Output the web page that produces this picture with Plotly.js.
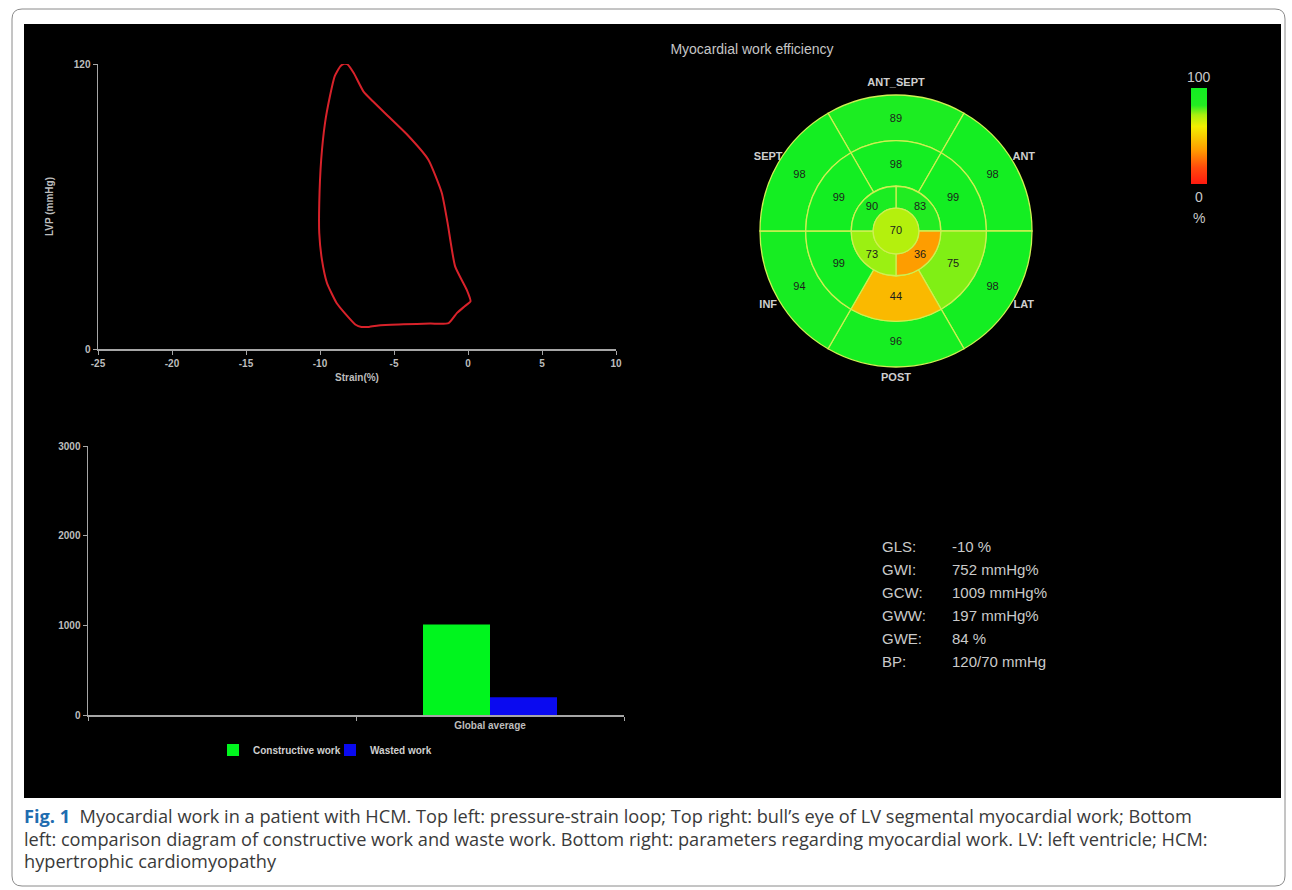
<!DOCTYPE html>
<html>
<head>
<meta charset="utf-8">
<script src="https://cdn.plot.ly/plotly-3.0.1.min.js"></script>
<style>
html,body{margin:0;padding:0;background:#fff;}
#chart{width:1292px;height:890px;}
</style>
</head>
<body>
<div id="chart"></div>
<script>
// ---------- DATA ----------
// Pressure-strain loop (Strain %, LVP mmHg)
const loopStrain = [-8.37,-8.16,-7.72,-7.07,-6.43,-5.39,-4.10,-2.68,-1.77,-1.38,-0.87,-0.09,0.17,-0.22,-0.74,-1.31,-2.55,-4.36,-5.91,-6.69,-7.20,-7.59,-8.24,-8.88,-9.53,-9.87,-10.05,-10.05,-9.92,-9.66,-9.33,-9.01,-8.63,-8.37];
const loopLVP    = [120.1,119.9,116.2,108.5,104.3,98.0,90.2,79.7,65.7,53.1,34.8,25.0,20.1,18.0,15.2,10.9,10.7,10.4,10.0,9.3,9.3,10.2,14.5,19.4,27.8,37.6,48.8,61.5,79.7,95.2,106.4,114.8,119.0,120.1];
const strainTickVals  = [-25, -20, -15, -10, -5, 0, 5, 10];
const strainTickText  = ["-25", "-20", "-15", "-10", "-5", "0", "5", "10"];
const lvpTickVals     = [0, 120];

// Bull's eye segmental work efficiency (%)
const basalAngles  = [0, 60, 120, 180, 240, 300];
const basalValues  = [89, 98, 98, 96, 94, 98];
const midAngles    = [0, 60, 120, 180, 240, 300];
const midValues    = [98, 99, 75, 44, 99, 99];
const apicalAngles = [45, 135, 225, 315];
const apicalValues = [83, 36, 73, 90];
const apexValue    = 70;
const wallLabels   = ["ANT_SEPT", "ANT", "LAT", "POST", "INF", "SEPT"];
const wallAngles   = [0, 60, 120, 180, 240, 300];

// Constructive vs wasted work
const barCategories = [" ", "Global average"];
const constructiveWork = [null, 1009];
const wastedWork       = [null, 197];
const workTickVals = [0, 1000, 2000, 3000];

// Global parameters
const paramLabels = ["GLS:", "GWI:", "GCW:", "GWW:", "GWE:", "BP:"];
const paramValues = ["-10 %", "752 mmHg%", "1009 mmHg%", "197 mmHg%", "84 %", "120/70 mmHg"];

const captionLines = [
  "<b><span style='color:#1f6db0'>Fig. 1</span></b>\u00a0\u00a0Myocardial work in a patient with HCM. Top left: pressure-strain loop; Top right: bull\u2019s eye of LV segmental myocardial work; Bottom",
  "left: comparison diagram of constructive work and waste work. Bottom right: parameters regarding myocardial work. LV: left ventricle; HCM:",
  "hypertrophic cardiomyopathy"
];

// ---------- LAYOUT HELPERS ----------
const W = 1292, H = 890;
const X = px => px / W;
const Y = py => 1 - py / H;

// ring geometry (fraction of outer radius)
const R_APEX = 0.168, R_APICAL = 0.329, R_MID = 0.664, R_BASAL = 1.0;

const effScale = [
  [0.00, '#ff1a10'],
  [0.17, '#ff4a0c'],
  [0.35, '#ff9a00'],
  [0.60, '#f2ef00'],
  [0.72, '#a8f010'],
  [0.82, '#22ec22'],
  [1.00, '#12ee22']
];

// build bull's eye segments
const segTheta = [], segWidth = [], segR = [], segBase = [], segVal = [];
basalAngles.forEach((a,i)=>{segTheta.push(a);segWidth.push(60);segBase.push(R_MID);segR.push(R_BASAL-R_MID);segVal.push(basalValues[i]);});
midAngles.forEach((a,i)=>{segTheta.push(a);segWidth.push(60);segBase.push(R_APICAL);segR.push(R_MID-R_APICAL);segVal.push(midValues[i]);});
apicalAngles.forEach((a,i)=>{segTheta.push(a);segWidth.push(90);segBase.push(R_APEX);segR.push(R_APICAL-R_APEX);segVal.push(apicalValues[i]);});
segTheta.push(0);segWidth.push(360);segBase.push(0);segR.push(R_APEX);segVal.push(apexValue);

const txtTheta = [], txtR = [], txtStr = [];
basalAngles.forEach((a,i)=>{txtTheta.push(a);txtR.push(0.82);txtStr.push(String(basalValues[i]));});
midAngles.forEach((a,i)=>{txtTheta.push(a);txtR.push(0.485);txtStr.push(String(midValues[i]));});
apicalAngles.forEach((a,i)=>{txtTheta.push(a);txtR.push(0.25);txtStr.push(String(apicalValues[i]));});
txtTheta.push(0);txtR.push(0);txtStr.push(String(apexValue));

const axisCol = '#a6a6a6';
const tickFont = {family:'Liberation Sans, Arial, sans-serif', size:10, color:'#bdbdbd', weight:'bold'};
const legFont = {family:'Liberation Sans, Arial, sans-serif', size:10, color:'#cfcfcf', weight:'bold'};

const traces = [
  {
    type:'scatter', x: loopStrain, y: loopLVP, mode:'lines',
    line:{color:'#d8222a', width:2, shape:'spline', smoothing:0.5},
    xaxis:'x', yaxis:'y', showlegend:false, cliponaxis:false, hoverinfo:'skip'
  },
  {
    type:'bar', name:'Constructive work', x: barCategories, y: constructiveWork,
    marker:{color:'#00f51e'}, xaxis:'x2', yaxis:'y2', legend:'legend'
  },
  {
    type:'bar', name:'Wasted work', x: barCategories, y: wastedWork,
    marker:{color:'#0a0af0'}, xaxis:'x2', yaxis:'y2', legend:'legend2'
  },
  {
    type:'barpolar', subplot:'polar', showlegend:false,
    theta: segTheta, width: segWidth, r: segR, base: segBase,
    marker:{
      color: segVal, colorscale: effScale, cmin:0, cmax:100,
      line:{color:'#cdf052', width:1.3},
      showscale:true,
      colorbar:{
        x: X(1191), xanchor:'left', xpad:0,
        y: Y(136), yanchor:'middle', ypad:0,
        len:96, lenmode:'pixels', thickness:16, thicknessmode:'pixels',
        outlinewidth:0, showticklabels:false, ticks:''
      }
    },
    hoverinfo:'skip'
  },
  {
    type:'scatterpolar', subplot:'polar', mode:'text', showlegend:false,
    r: txtR, theta: txtTheta, text: txtStr,
    textfont:{family:'Liberation Sans, Arial, sans-serif', size:11, color:'#1c1c1c'},
    cliponaxis:false, hoverinfo:'skip'
  },
  {
    type:'scatterpolar', subplot:'polar', mode:'text', showlegend:false,
    r: wallAngles.map(()=>1.085), theta: wallAngles, text: wallLabels,
    textfont:{family:'Liberation Sans, Arial, sans-serif', size:11, color:'#cfcfcf', weight:'bold'},
    cliponaxis:false, hoverinfo:'skip'
  }
];

const annotations = [];
paramLabels.forEach((lab,i)=>{
  const yy = Y(546 + 23.1*i);
  annotations.push({xref:'paper', yref:'paper', x:X(880), y:yy, xanchor:'left', yanchor:'middle', showarrow:false,
    text:lab, font:{family:'Liberation Sans, Arial, sans-serif', size:15, color:'#cacaca'}});
  annotations.push({xref:'paper', yref:'paper', x:X(950), y:yy, xanchor:'left', yanchor:'middle', showarrow:false,
    text:paramValues[i], font:{family:'Liberation Sans, Arial, sans-serif', size:15, color:'#cacaca'}});
});
[['100',77],['0',197],['%',218]].forEach(([t,py])=>{
  annotations.push({xref:'paper', yref:'paper', x:X(1199), y:Y(py), xanchor:'center', yanchor:'middle', showarrow:false,
    text:t, font:{family:'Liberation Sans, Arial, sans-serif', size:14, color:'#c8c8c8'}});
});
captionLines.forEach((t,i)=>{
  annotations.push({xref:'paper', yref:'paper', x:X(22), y:Y(816 + 22.5*i), xanchor:'left', yanchor:'middle', showarrow:false,
    text:t, align:'left', font:{family:'Open Sans, sans-serif', size:18.2, color:'#3a3a3a'}});
});

// rounded frame path
function roundRect(x0,y0,x1,y1,r){
  return `M ${X(x0+r)},${Y(y0)} L ${X(x1-r)},${Y(y0)} Q ${X(x1)},${Y(y0)} ${X(x1)},${Y(y0+r)} ` +
         `L ${X(x1)},${Y(y1-r)} Q ${X(x1)},${Y(y1)} ${X(x1-r)},${Y(y1)} ` +
         `L ${X(x0+r)},${Y(y1)} Q ${X(x0)},${Y(y1)} ${X(x0)},${Y(y1-r)} ` +
         `L ${X(x0)},${Y(y0+r)} Q ${X(x0)},${Y(y0)} ${X(x0+r)},${Y(y0)} Z`;
}

const layout = {
  width:W, height:H,
  margin:{l:0,r:0,t:0,b:0},
  paper_bgcolor:'#ffffff',
  plot_bgcolor:'rgba(0,0,0,0)',
  showlegend:true,
  title:{text:'Myocardial work efficiency', x:X(752), xanchor:'center', y:Y(49), yanchor:'middle',
         font:{family:'Liberation Sans, Arial, sans-serif', size:14, color:'#c6c6c6'}},
  shapes:[
    {type:'path', xref:'paper', yref:'paper', path: roundRect(12,9,1285,886,10),
     line:{color:'#8a8a8a', width:1}, fillcolor:'rgba(0,0,0,0)', layer:'below'},
    {type:'rect', xref:'paper', yref:'paper', x0:X(24), x1:X(1281), y0:Y(798), y1:Y(24),
     fillcolor:'#000000', line:{width:0}, layer:'below'}
  ],
  xaxis:{
    domain:[X(98), X(616)], anchor:'y', range:[-25,10], tickmode:'array',
    tickvals:strainTickVals, ticktext:strainTickText, showgrid:false, zeroline:false,
    showline:true, linecolor:axisCol, linewidth:1.5, ticks:'outside', ticklen:4, tickcolor:axisCol,
    tickfont:tickFont,
    title:{text:'Strain(%)', standoff:6, font:tickFont}
  },
  yaxis:{
    domain:[Y(349), Y(64)], anchor:'x', range:[0,120], tickmode:'array', tickvals:lvpTickVals,
    showgrid:false, zeroline:false, showline:true, linecolor:axisCol, linewidth:1.5,
    ticks:'outside', ticklen:4, tickcolor:axisCol, tickfont:tickFont,
    title:{text:'LVP (mmHg)', standoff:18, font:tickFont}
  },
  xaxis2:{
    domain:[X(88), X(624)], anchor:'y2', type:'category', categoryorder:'array', categoryarray:barCategories,
    range:[-0.5,1.5], showgrid:false, zeroline:false, showline:true, linecolor:axisCol, linewidth:1.5,
    ticks:'outside', ticklen:4, tickcolor:axisCol, tickson:'boundaries', tickfont:tickFont
  },
  yaxis2:{
    domain:[Y(715), Y(446)], anchor:'x2', range:[0,3000], tickmode:'array', tickvals:workTickVals,
    showgrid:false, zeroline:false, showline:true, linecolor:axisCol, linewidth:1.5,
    ticks:'outside', ticklen:4, tickcolor:axisCol, tickfont:tickFont
  },
  barmode:'group', bargap:0.5, bargroupgap:0,
  legend:{orientation:'h', x:X(213), xanchor:'left', y:Y(750), yanchor:'middle',
          bgcolor:'rgba(0,0,0,0)', font:legFont, itemwidth:30},
  legend2:{orientation:'h', x:X(330), xanchor:'left', y:Y(750), yanchor:'middle',
          bgcolor:'rgba(0,0,0,0)', font:legFont, itemwidth:30},
  polar:{
    domain:{x:[X(896-149.6), X(896+149.6)], y:[Y(231+149.6), Y(231-149.6)]},
    bgcolor:'rgba(0,0,0,0)',
    radialaxis:{range:[0,1.1], visible:false, showgrid:false, showline:false, showticklabels:false, ticks:''},
    angularaxis:{rotation:90, direction:'clockwise', showgrid:false, showline:false, showticklabels:false, ticks:''},
    bargap:0
  },
  annotations: annotations
};

Plotly.newPlot('chart', traces, layout, {displayModeBar:false, staticPlot:true});
</script>
</body>
</html>
